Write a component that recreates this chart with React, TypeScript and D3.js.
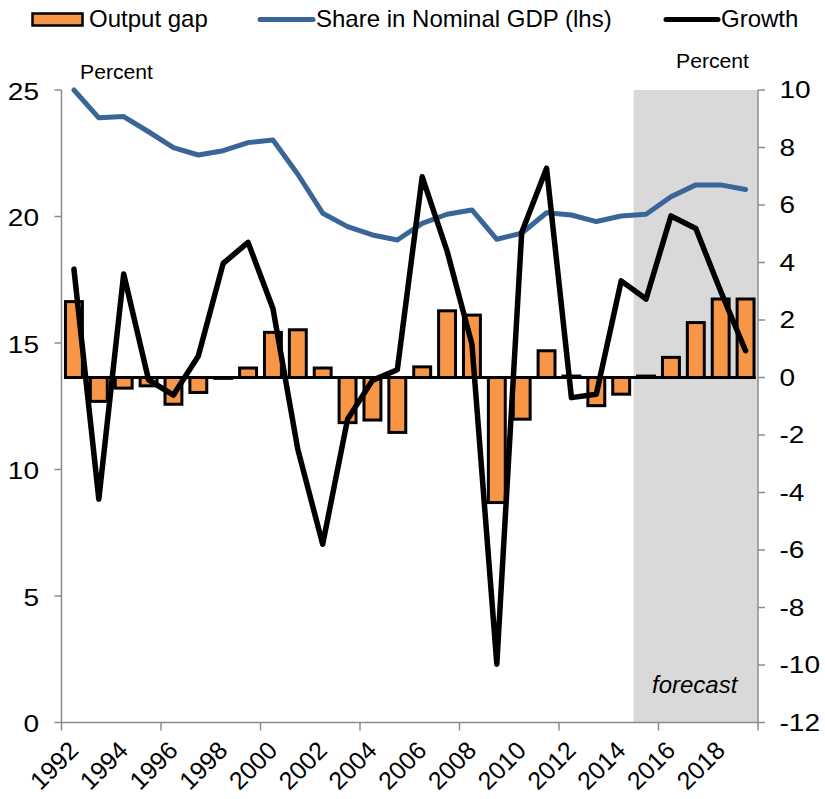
import React from 'react';
import * as d3 from 'd3';

const years = [1992, 1993, 1994, 1995, 1996, 1997, 1998, 1999, 2000, 2001, 2002, 2003, 2004, 2005, 2006, 2007, 2008, 2009, 2010, 2011, 2012, 2013, 2014, 2015, 2016, 2017, 2018, 2019];
const outputGap = [2.64, -0.83, -0.37, -0.29, -0.93, -0.52, -0.03, 0.33, 1.57, 1.66, 0.33, -1.57, -1.48, -1.91, 0.37, 2.32, 2.17, -4.35, -1.45, 0.93, 0.05, -0.98, -0.58, 0.05, 0.7, 1.91, 2.73, 2.73];
const shareNominalGDP = [25.0, 23.9, 23.95, 23.35, 22.72, 22.43, 22.6, 22.92, 23.02, 21.67, 20.13, 19.6, 19.27, 19.07, 19.73, 20.09, 20.26, 19.1, 19.34, 20.15, 20.06, 19.8, 20.02, 20.09, 20.78, 21.25, 21.25, 21.07];
const growth = [3.77, -4.23, 3.6, -0.08, -0.61, 0.75, 3.97, 4.7, 2.4, -2.5, -5.8, -1.45, -0.1, 0.27, 6.98, 4.4, 1.16, -9.97, 5.04, 7.28, -0.7, -0.58, 3.36, 2.73, 5.62, 5.18, 3.0, 0.93];
const leftTicks = [0, 5, 10, 15, 20, 25];
const rightTicks = [-12, -10, -8, -6, -4, -2, 0, 2, 4, 6, 8, 10];
const xLabelYears = [1992, 1994, 1996, 1998, 2000, 2002, 2004, 2006, 2008, 2010, 2012, 2014, 2016, 2018];
const xTickYears = [1992, 1996, 2000, 2004, 2008, 2012, 2016];
const forecastStart = 2015;

const FONT = "'Liberation Sans', Arial, sans-serif";
const ORANGE = '#F79646';
const BLUE = '#3A6598';
const AXIS = '#8C8C8C';

export default function App() {
  const left = 61.5, right = 758, top = 90, bottom = 722.5;
  const x = d3.scaleBand<number>().domain(years).range([left, right]).paddingInner(0.32).paddingOuter(0.16);
  const step = x.step();
  const bw = x.bandwidth();
  const cx = (yr: number) => (x(yr) as number) + bw / 2;
  const yL = d3.scaleLinear().domain([0, 25]).range([bottom, top]);
  const yR = d3.scaleLinear().domain([-12, 10]).range([bottom, top]);
  const boundary = (yr: number) => (x(yr) as number) - (step - bw) / 2;

  const shareLine = d3.line<number>().x((_, i) => cx(years[i])).y(d => yL(d));
  const growthLine = d3.line<number>().x((_, i) => cx(years[i])).y(d => yR(d));

  const shadeX = boundary(forecastStart);
  const tickFs = 23, tickSx = 1.22;

  return (
    <svg width={825} height={799} style={{ position: 'absolute', left: 0, top: 0, background: '#fff' }} fontFamily={FONT}>
      {/* forecast shading */}
      <rect x={shadeX} y={top} width={right - shadeX} height={bottom - top} fill="#D9D9D9" />
      <text x={652} y={693} fontSize={24} fontStyle="italic" fill="#000">forecast</text>

      {/* zero line */}
      <line x1={(x(years[0]) as number) - 1.5} x2={(x(years[years.length - 1]) as number) + bw + 1.5} y1={yR(0)} y2={yR(0)} stroke="#000" strokeWidth={3} />

      {/* bars */}
      {outputGap.map((v, i) => (
        <rect key={years[i]} x={x(years[i])} width={bw} y={Math.min(yR(v), yR(0))} height={Math.abs(yR(v) - yR(0))}
          fill={ORANGE} stroke="#000" strokeWidth={3} />
      ))}

      {/* axes */}
      <line x1={left} x2={left} y1={top} y2={bottom} stroke={AXIS} strokeWidth={1.5} />
      <line x1={right} x2={right} y1={top} y2={bottom} stroke={AXIS} strokeWidth={1.5} />
      <line x1={left} x2={right} y1={bottom} y2={bottom} stroke={AXIS} strokeWidth={1.5} />
      {leftTicks.map(t => (
        <g key={'l' + t}>
          <line x1={left - 7} x2={left} y1={yL(t)} y2={yL(t)} stroke={AXIS} strokeWidth={1.5} />
          <text transform={`translate(39,${yL(t)}) scale(${tickSx},1)`} dy="0.42em" textAnchor="end" fontSize={tickFs} fill="#000">{t}</text>
        </g>
      ))}
      {rightTicks.map(t => (
        <g key={'r' + t}>
          <line x1={right} x2={right + 7} y1={yR(t)} y2={yR(t)} stroke={AXIS} strokeWidth={1.5} />
          <text transform={`translate(779.5,${yR(t)}) scale(${tickSx},1)`} dy="0.36em" textAnchor="start" fontSize={tickFs} fill="#000">{t}</text>
        </g>
      ))}
      {xTickYears.map(yr => (
        <line key={'xt' + yr} x1={boundary(yr)} x2={boundary(yr)} y1={bottom} y2={bottom + 8} stroke={AXIS} strokeWidth={1.5} />
      ))}
      <line x1={right} x2={right} y1={bottom} y2={bottom + 8} stroke={AXIS} strokeWidth={1.5} />
      {xLabelYears.map(yr => (
        <text key={'xl' + yr} transform={`translate(${cx(yr) + 6},752) rotate(-45)`} textAnchor="end" fontSize={25} fill="#000">{yr}</text>
      ))}

      {/* lines */}
      <path d={shareLine(shareNominalGDP) || ''} fill="none" stroke={BLUE} strokeWidth={5} strokeLinejoin="round" strokeLinecap="round" />
      <path d={growthLine(growth) || ''} fill="none" stroke="#000" strokeWidth={5.5} strokeLinejoin="round" strokeLinecap="round" />

      {/* axis titles */}
      <text transform="translate(80,79) scale(1.06,1)" fontSize={20} fill="#000">Percent</text>
      <text transform="translate(676,68) scale(1.06,1)" fontSize={20} fill="#000">Percent</text>

      {/* legend */}
      <rect x={32.5} y={13.5} width={50} height={12} fill={ORANGE} stroke="#000" strokeWidth={2.5} />
      <text x={89} y={27} fontSize={24} fill="#000">Output gap</text>
      <line x1={260} x2={313} y1={19.5} y2={19.5} stroke={BLUE} strokeWidth={5} strokeLinecap="round" />
      <text x={316} y={27} fontSize={24} fill="#000">Share in Nominal GDP (lhs)</text>
      <line x1={666} x2={718} y1={19.5} y2={19.5} stroke="#000" strokeWidth={5} strokeLinecap="round" />
      <text x={721} y={27} fontSize={24} fill="#000">Growth</text>
    </svg>
  );
}
